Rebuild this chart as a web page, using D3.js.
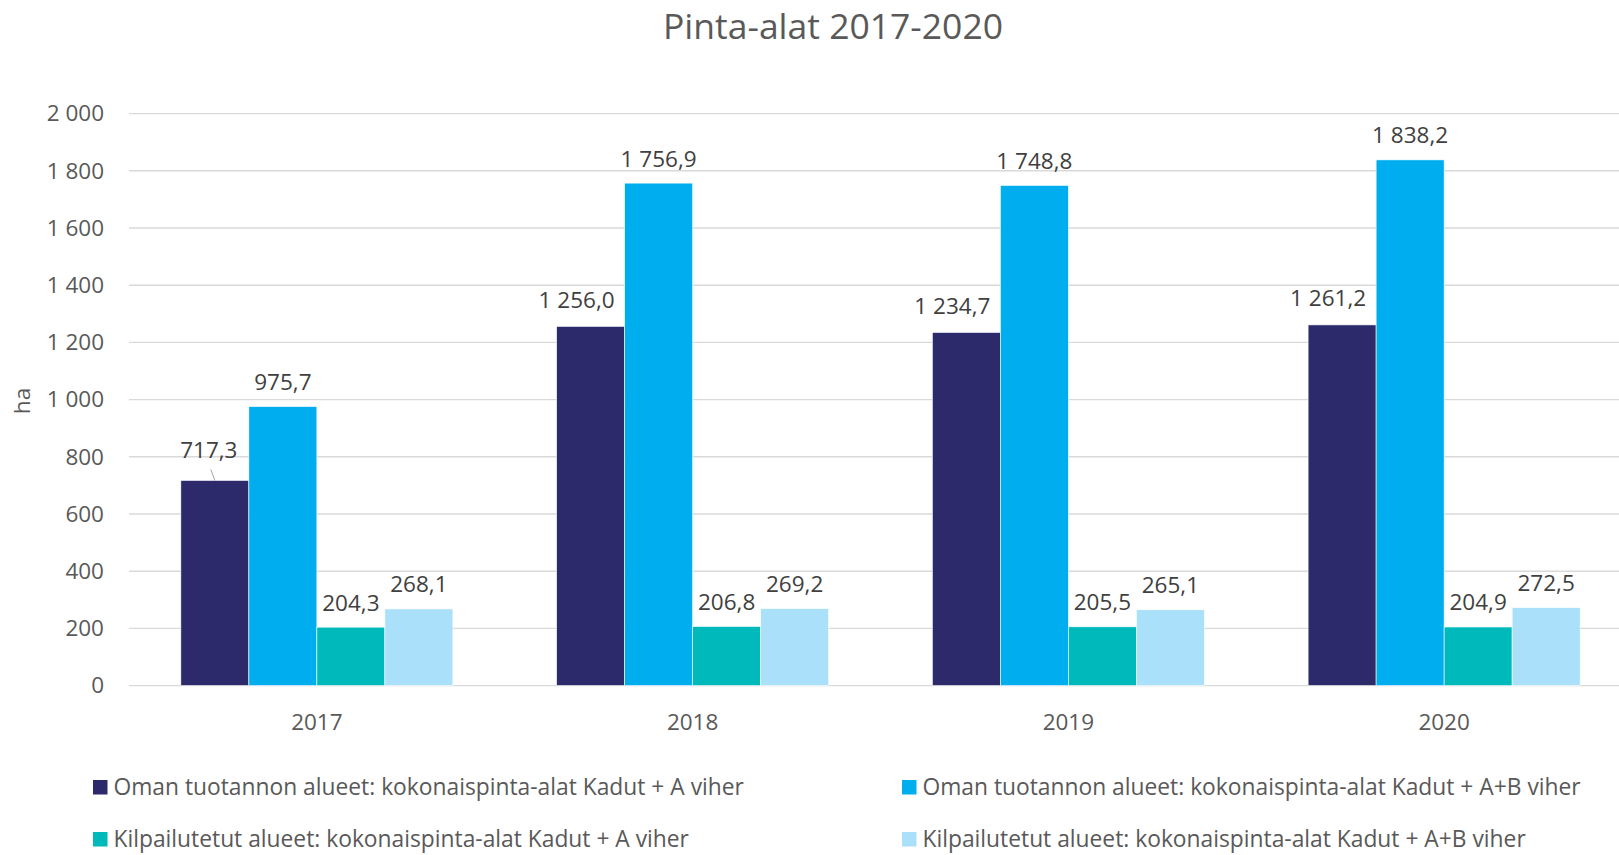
<!DOCTYPE html>
<html>
<head>
<meta charset="utf-8">
<script src="https://cdn.jsdelivr.net/npm/d3@7"></script>
<style>
  body { margin: 0; background: #fff; }
  svg { display: block; font-family: "Open Sans", "Noto Sans", sans-serif; }
  .grid line { stroke: #d9d9d9; stroke-width: 1.4; }
  .tick-label { fill: #595959; font-size: 22.5px; }
  .data-label { fill: #404040; font-size: 22.5px; }
  .legend-label { fill: #595959; font-size: 22.8px; }
</style>
</head>
<body>
<svg id="chart" width="1619" height="855"></svg>
<script>
const years = ["2017", "2018", "2019", "2020"];
const seriesNames = [
  "Oman tuotannon alueet: kokonaispinta-alat Kadut + A viher",
  "Oman tuotannon alueet: kokonaispinta-alat Kadut + A+B viher",
  "Kilpailutetut alueet: kokonaispinta-alat Kadut + A viher",
  "Kilpailutetut alueet: kokonaispinta-alat Kadut + A+B viher"
];
const omaA = [717.3, 1256.0, 1234.7, 1261.2];
const omaAB = [975.7, 1756.9, 1748.8, 1838.2];
const kilpA = [204.3, 206.8, 205.5, 204.9];
const kilpAB = [268.1, 269.2, 265.1, 272.5];
const yTicks = [0, 200, 400, 600, 800, 1000, 1200, 1400, 1600, 1800, 2000];
const colors = ["#2c2a6b", "#00aeef", "#00b9bb", "#abe0fa"];

const seriesValues = [omaA, omaAB, kilpA, kilpAB];

const fi = d3.formatLocale({ decimal: ",", thousands: " ", grouping: [3], currency: ["", " €"] });
const fmtTick = fi.format(",.0f");
const fmtVal = fi.format(",.1f");

const svg = d3.select("#chart");

// plot area (the right edge of the last group runs out of the picture)
const plotLeft = 129, plotRight = 1632, plotTop = 113.6, plotBottom = 685.6;

const x = d3.scaleBand().domain(years).range([plotLeft, plotRight]).padding(0);
const xInner = d3.scaleBand()
  .domain(d3.range(seriesNames.length))
  .range([x.bandwidth() * 0.138, x.bandwidth() * 0.862]);
const y = d3.scaleLinear().domain([0, 2000]).range([plotBottom, plotTop]);

// title
svg.append("text")
  .attr("x", 833)
  .attr("y", 38.5)
  .attr("text-anchor", "middle")
  .attr("fill", "#595959")
  .style("font-size", "35.5px")
  .text("Pinta-alat 2017-2020");

// gridlines
svg.append("g")
  .attr("class", "grid")
  .selectAll("line")
  .data(yTicks)
  .enter()
  .append("line")
  .attr("x1", plotLeft)
  .attr("x2", 1619)
  .attr("y1", (d) => y(d))
  .attr("y2", (d) => y(d));

// y tick labels
svg.append("g")
  .selectAll("text")
  .data(yTicks)
  .enter()
  .append("text")
  .attr("class", "tick-label")
  .attr("x", 104)
  .attr("y", (d) => y(d))
  .attr("dy", "0.35em")
  .attr("text-anchor", "end")
  .text((d) => fmtTick(d));

// y axis title
svg.append("text")
  .attr("class", "tick-label")
  .attr("transform", "translate(30,401) rotate(-90)")
  .attr("text-anchor", "middle")
  .text("ha");

// x tick labels
svg.append("g")
  .selectAll("text")
  .data(years)
  .enter()
  .append("text")
  .attr("class", "tick-label")
  .attr("x", (d) => x(d) + x.bandwidth() / 2)
  .attr("y", 729.5)
  .attr("text-anchor", "middle")
  .text((d) => d);

// bars
const rows = [];
years.forEach((yr, i) => {
  seriesValues.forEach((vals, s) => {
    rows.push({ year: yr, s: s, value: vals[i] });
  });
});

const groups = svg.append("g").attr("class", "bars");

groups.selectAll("rect")
  .data(rows)
  .enter()
  .append("rect")
  .attr("x", (d) => x(d.year) + xInner(d.s))
  .attr("y", (d) => y(d.value))
  .attr("width", xInner.bandwidth())
  .attr("height", (d) => y(0) - y(d.value))
  .attr("fill", (d) => colors[d.s])
  .attr("stroke", "#ffffff")
  .attr("stroke-width", 0.6);

// data labels (first series sits a bit to the left, 2017 one with a leader line)
function labelPos(d) {
  const cx = x(d.year) + xInner(d.s) + xInner.bandwidth() / 2;
  const ty = y(d.value);
  if (d.s === 0 && d.year === "2017") return { x: cx - 6, y: ty - 22, leader: true };
  if (d.s === 0) return { x: cx - 14, y: ty - 18.5 };
  return { x: cx, y: ty - 16.5 };
}

svg.append("g")
  .selectAll("text")
  .data(rows)
  .enter()
  .append("text")
  .attr("class", "data-label")
  .attr("x", (d) => labelPos(d).x)
  .attr("y", (d) => labelPos(d).y)
  .attr("text-anchor", "middle")
  .text((d) => fmtVal(d.value));

svg.append("g")
  .selectAll("line")
  .data(rows.filter((d) => labelPos(d).leader))
  .enter()
  .append("line")
  .attr("x1", (d) => labelPos(d).x + 2)
  .attr("y1", (d) => labelPos(d).y + 11)
  .attr("x2", (d) => labelPos(d).x + 6)
  .attr("y2", (d) => y(d.value))
  .attr("stroke", "#a6a6a6")
  .attr("stroke-width", 1);

// legend
const legendX = [93, 902];
const legendY = [787, 839];
const legend = svg.append("g")
  .selectAll("g")
  .data(seriesNames)
  .enter()
  .append("g")
  .attr("transform", (d, i) => `translate(${legendX[i % 2]},${legendY[Math.floor(i / 2)]})`);

legend.append("rect")
  .attr("x", 0)
  .attr("y", -7)
  .attr("width", 14.5)
  .attr("height", 14.5)
  .attr("fill", (d, i) => colors[i]);

legend.append("text")
  .attr("class", "legend-label")
  .attr("x", 20.5)
  .attr("y", 0)
  .attr("dy", "0.35em")
  .text((d) => d);
</script>
</body>
</html>
